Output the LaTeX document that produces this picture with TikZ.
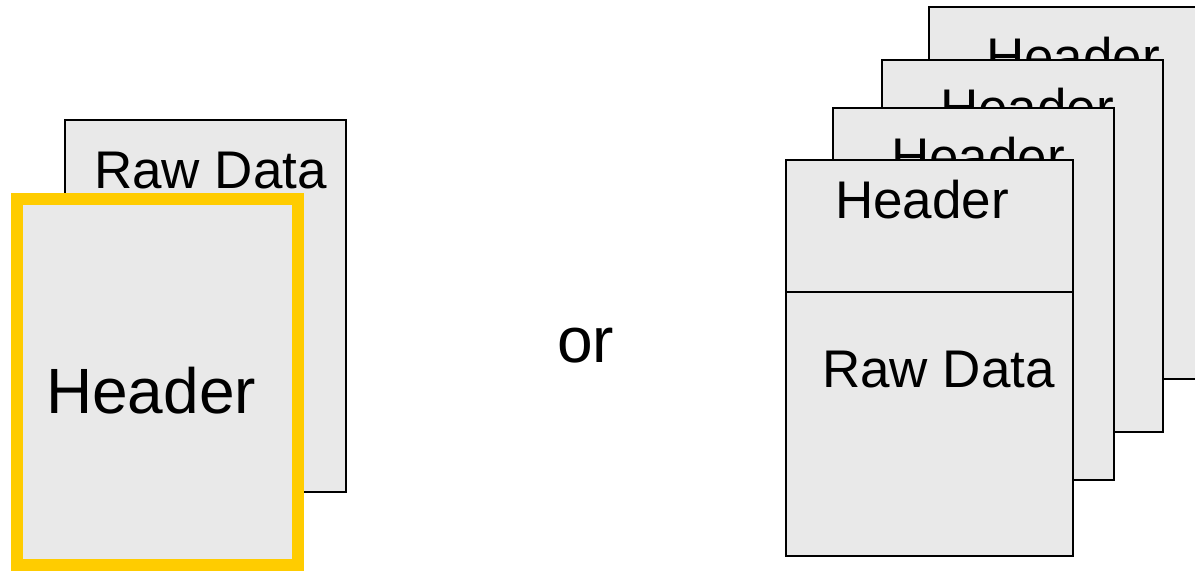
\documentclass[tikz,border=0pt]{standalone}
\usepackage{fontspec}
\setmainfont{Liberation Sans}
\definecolor{pagegray}{HTML}{E9E9E9}
\definecolor{hlyellow}{HTML}{FFCC00}
\tikzset{
  pagebox/.style={fill=pagegray, draw=black, line width=2pt},
  hlbox/.style={fill=pagegray, draw=hlyellow, line width=12pt},
  lbl/.style={anchor=base west, inner sep=0pt, font=\fontsize{53}{60}\selectfont},
  biglbl/.style={anchor=base west, inner sep=0pt, font=\fontsize{64}{72}\selectfont},
}
\begin{document}
\begin{tikzpicture}[x=1pt,y=-1pt]
\useasboundingbox (0,0) rectangle (1195,571);
\clip (0,0) rectangle (1195,571);
% left pair
\draw[pagebox] (65,120) rectangle (346,492);
\node[lbl] (rawL) at (94,188) {Raw Data};
\draw[hlbox] (17,199) rectangle (298,565);
\node[biglbl] (hdrL) at (46,413) {Header};
% or
\node[biglbl] (or) at (557,362) {or};
% right stack
\draw[pagebox] (929,7) rectangle (1212,379);
\node[lbl] (h4) at (986,75) {Header};
\draw[pagebox] (882,60) rectangle (1163,432);
\node[lbl] (h3) at (940,126) {Header};
\draw[pagebox] (833,108) rectangle (1114,480);
\node[lbl] (h2) at (891,175) {Header};
\draw[pagebox] (786,160) rectangle (1073,556);
\draw[black, line width=2pt] (786,292) -- (1073,292);
\node[lbl] (h1) at (835,218) {Header};
\node[lbl] (raw1) at (822,387) {Raw Data};
\end{tikzpicture}
\end{document}
